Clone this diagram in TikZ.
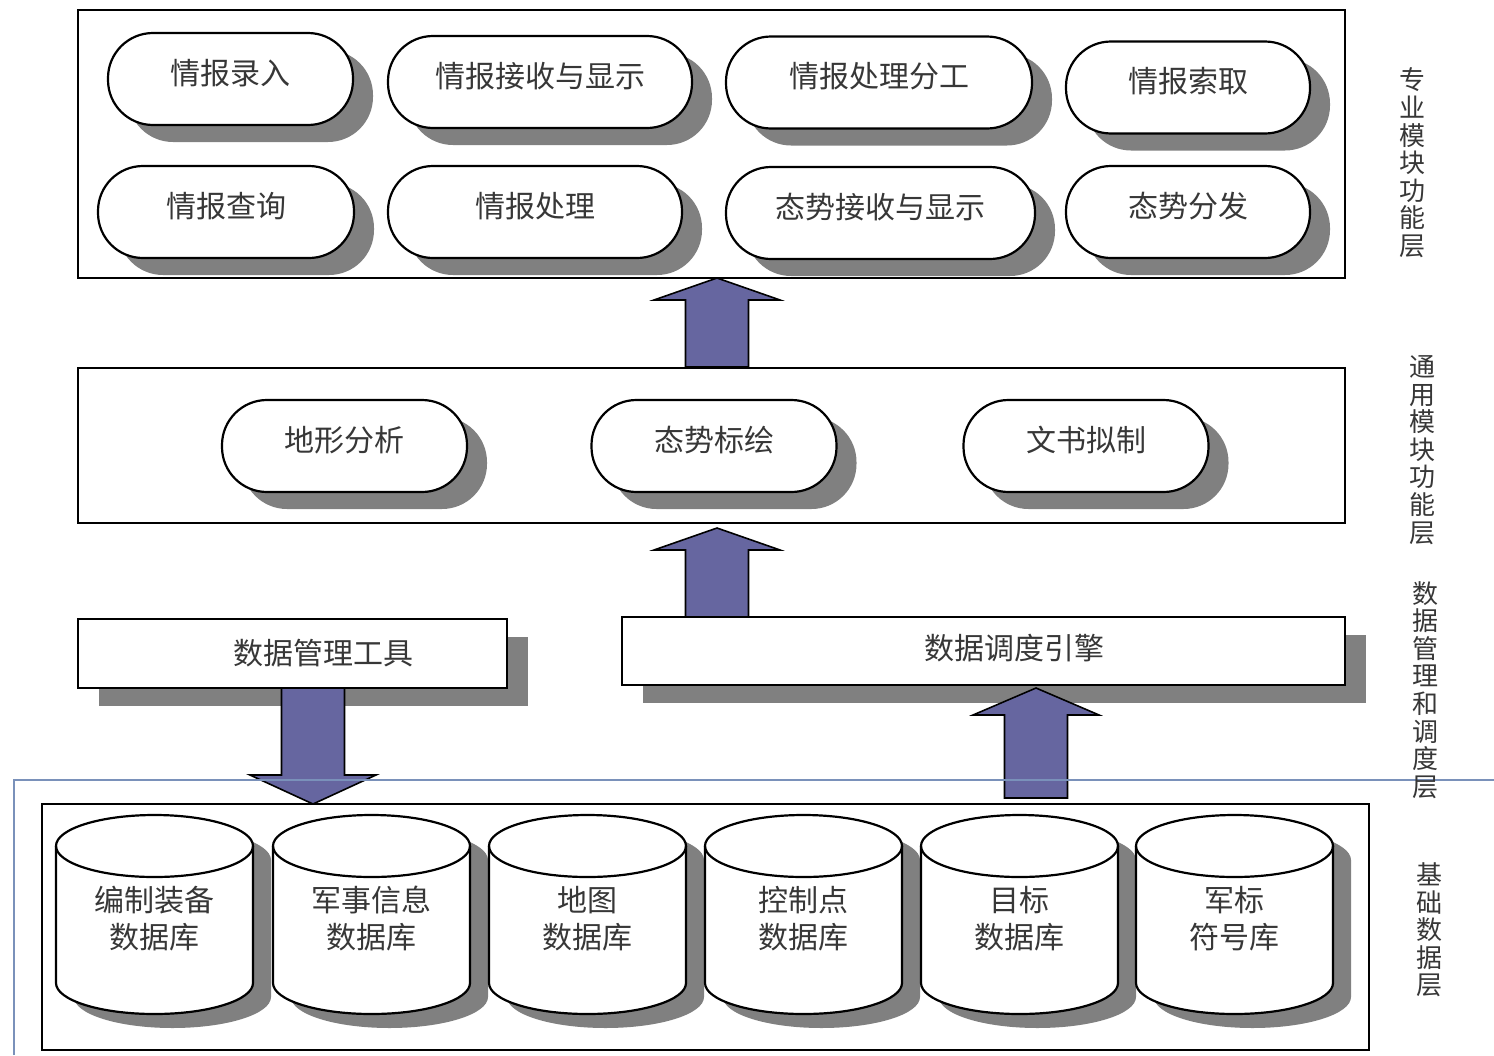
\documentclass[tikz,border=0pt]{standalone}
\usepackage{fontspec}
\newfontfamily\cjk{Noto Sans CJK SC}
\usetikzlibrary{shadows}
\definecolor{shadowgray}{RGB}{128,128,128}
\definecolor{arrowfill}{RGB}{102,102,160}
\definecolor{frameblue}{RGB}{122,145,186}
\definecolor{textgray}{RGB}{55,55,55}

% cylinder outline path, #1 options, #2 left x
\newcommand{\cylshape}[2]{%
  \path[#1] (#2,846) -- (#2,983)
    .. controls (#2,1000.1) and (#2+44.1,1014) .. (#2+98.5,1014)
    .. controls (#2+152.9,1014) and (#2+197,1000.1) .. (#2+197,983)
    -- (#2+197,846)
    .. controls (#2+197,828.9) and (#2+152.9,815) .. (#2+98.5,815)
    .. controls (#2+44.1,815) and (#2,828.9) .. (#2,846) -- cycle;}
% database: #1 name, #2 left x, #3 first line, #4 second line
\newcommand{\dbcyl}[4]{%
  \cylshape{fill=shadowgray, shift={(18,14)}}{#2}
  \cylshape{fill=white, draw=black, line width=2.2pt}{#2}
  \draw[line width=2.2pt] (#2,846) .. controls (#2,863.1) and (#2+44.1,877) .. (#2+98.5,877)
    .. controls (#2+152.9,877) and (#2+197,863.1) .. (#2+197,846);
  \node[cyltext] (#1) at (#2+98.5,919) {#3\\#4};}
% block arrow: #1 centre x, #2 tail y, #3 head base y, #4 tip y
\newcommand{\blockarrow}[4]{%
  \filldraw[fill=arrowfill, draw=black, line width=1.6pt]
    (#1-31.5,#2) -- (#1-31.5,#3) -- (#1-63,#3) -- (#1,#4) -- (#1+63,#3)
    -- (#1+31.5,#3) -- (#1+31.5,#2) -- cycle;}

\begin{document}
\begin{tikzpicture}[x=1pt,y=-1pt,
  frame/.style={draw=black, line width=2.4pt, fill=white},
  cjktext/.style={font=\cjk\fontsize{30}{37}\selectfont, text=textgray},
  pill/.style={cjktext, draw=black, line width=2.2pt, fill=white,
    rounded corners=45pt, minimum height=92pt, inner sep=0pt,
    text height=22pt, text depth=12pt,
    general shadow={fill=shadowgray, shadow xshift=20pt, shadow yshift=-17pt}},
  bar/.style={draw=black, line width=2.4pt, fill=white, inner sep=0pt,
    general shadow={fill=shadowgray, shadow xshift=21pt, shadow yshift=-18pt}},
  bartext/.style={cjktext, inner sep=0pt},
  cyltext/.style={cjktext, align=center, inner sep=0pt},
  layer/.style={font=\cjk\fontsize{26}{27.6}\selectfont, text=textgray,
    align=center, inner sep=0pt}
]
\fill[white] (0,0) rectangle (1494,1055);
\useasboundingbox (0,0) rectangle (1494,1055);

% frames
\node[frame, minimum width=1267pt, minimum height=268pt, inner sep=0pt] (top) at (711.5,144) {};
\node[frame, minimum width=1267pt, minimum height=155pt, inner sep=0pt] (mid) at (711.5,445.5) {};
\node[frame, minimum width=1327pt, minimum height=246pt, inner sep=0pt] (base) at (705.5,927) {};

% professional module pills
\node[pill, minimum width=245pt] (p1) at (230.5,79) {情报录入};
\node[pill, minimum width=304pt] (p2) at (540,82) {情报接收与显示};
\node[pill, minimum width=306pt] (p3) at (879,82.5) {情报处理分工};
\node[pill, minimum width=244pt] (p4) at (1188,87.5) {情报索取};
\node[pill, minimum width=256pt] (p5) at (226,212) {情报查询};
\node[pill, minimum width=294pt] (p6) at (535,212) {情报处理};
\node[pill, minimum width=309pt] (p7) at (880.5,213) {态势接收与显示};
\node[pill, minimum width=244pt] (p8) at (1188,212) {态势分发};

% general module pills
\node[pill, minimum width=245pt] (g1) at (344.5,446) {地形分析};
\node[pill, minimum width=245pt] (g2) at (714,446) {态势标绘};
\node[pill, minimum width=245pt] (g3) at (1086,446) {文书拟制};

% data management bars
\node[bar, minimum width=429pt, minimum height=69pt,
  label={[bartext, xshift=31pt]center:数据管理工具}] (tool) at (292.5,653.5) {};
\node[bar, minimum width=723pt, minimum height=68pt,
  label={[bartext, xshift=31pt, yshift=3pt]center:数据调度引擎}] (engine) at (983.5,651) {};

% databases
\dbcyl{db1}{56}{编制装备}{数据库}
\dbcyl{db2}{273}{军事信息}{数据库}
\dbcyl{db3}{489}{地图}{数据库}
\dbcyl{db4}{705}{控制点}{数据库}
\dbcyl{db5}{921}{目标}{数据库}
\dbcyl{db6}{1136}{军标}{符号库}

% block arrows
\blockarrow{717}{367}{300}{278}
\blockarrow{717}{617}{550}{528}
\blockarrow{313}{688}{775}{804}
\blockarrow{1036}{798}{715}{688}

% blue frame lines
\coordinate (bl) at (14,1055);
\coordinate (tl) at (14,780);
\coordinate (tr) at (1494,780);
\draw[frameblue, line width=2pt] (bl) -- (tl) -- (tr);

% layer labels
\node[layer] (L1) at (1412,163) {专\\业\\模\\块\\功\\能\\层};
\node[layer] (L2) at (1422,450) {通\\用\\模\\块\\功\\能\\层};
\node[layer] (L3) at (1425,690) {数\\据\\管\\理\\和\\调\\度\\层};
\node[layer] (L4) at (1429,930) {基\\础\\数\\据\\层};
\end{tikzpicture}
\end{document}
